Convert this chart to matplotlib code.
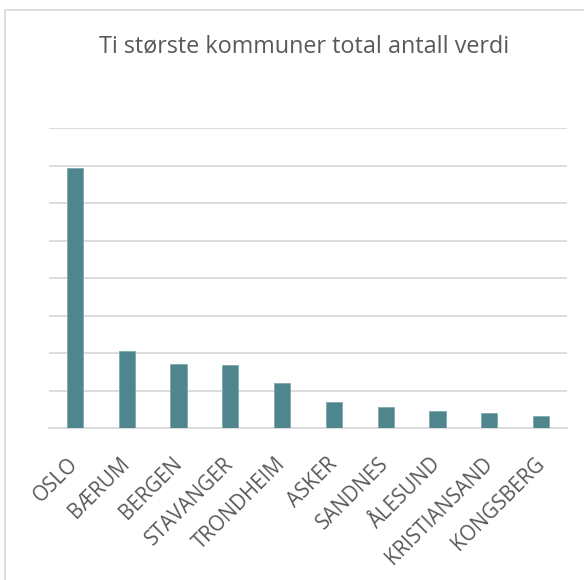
import matplotlib
matplotlib.use("Agg")
import matplotlib.pyplot as plt
from matplotlib.patches import Rectangle

title = "Ti største kommuner total antall verdi"
kommuner = ["OSLO", "BÆRUM", "BERGEN", "STAVANGER", "TRONDHEIM",
            "ASKER", "SANDNES", "ÅLESUND", "KRISTIANSAND", "KONGSBERG"]
verdier = [6.94, 2.05, 1.72, 1.67, 1.21, 0.69, 0.55, 0.45, 0.40, 0.32]

plt.rcParams['font.family'] = ['Open Sans', 'DejaVu Sans']
W, H = 584, 580
fig = plt.figure(figsize=(W / 100, H / 100), dpi=100)
fig.patch.set_facecolor('white')

# outer chart border
fig.patches.append(Rectangle((5 / W, -0.05), 1.1, (H - 10) / H + 0.05,
                             transform=fig.transFigure, fill=False,
                             edgecolor='#D9D9D9', linewidth=1.2))

ax = fig.add_axes([49 / W, (H - 428) / H, 518 / W, 300 / H])
x = range(len(kommuner))
ax.bar(x, verdier, width=0.31, color='#4F858C', edgecolor='#7FA8AE',
       linewidth=0.6, zorder=3)
ax.set_xlim(-0.5, len(kommuner) - 0.5)
ax.set_ylim(0, 8)
ax.set_yticks(range(0, 9))
ax.yaxis.grid(True, color='#D9D9D9', linewidth=1.3, zorder=0)
ax.tick_params(axis='y', left=False, labelleft=False)
ax.tick_params(axis='x', bottom=False, pad=20)
for s in ['top', 'right', 'left']:
    ax.spines[s].set_visible(False)
ax.spines['bottom'].set_color('#D9D9D9')
ax.spines['bottom'].set_linewidth(1.3)
ax.set_xticks(list(x))
ax.set_xticklabels(kommuner, rotation=45, ha='right', va='center',
                   rotation_mode='anchor', fontsize=14.8, color='#595959')

fig.text(304 / W, 1 - 46 / H, title, ha='center', va='center',
         fontsize=16.8, color='#595959')

fig.savefig('out.png', dpi=100, facecolor='white')
